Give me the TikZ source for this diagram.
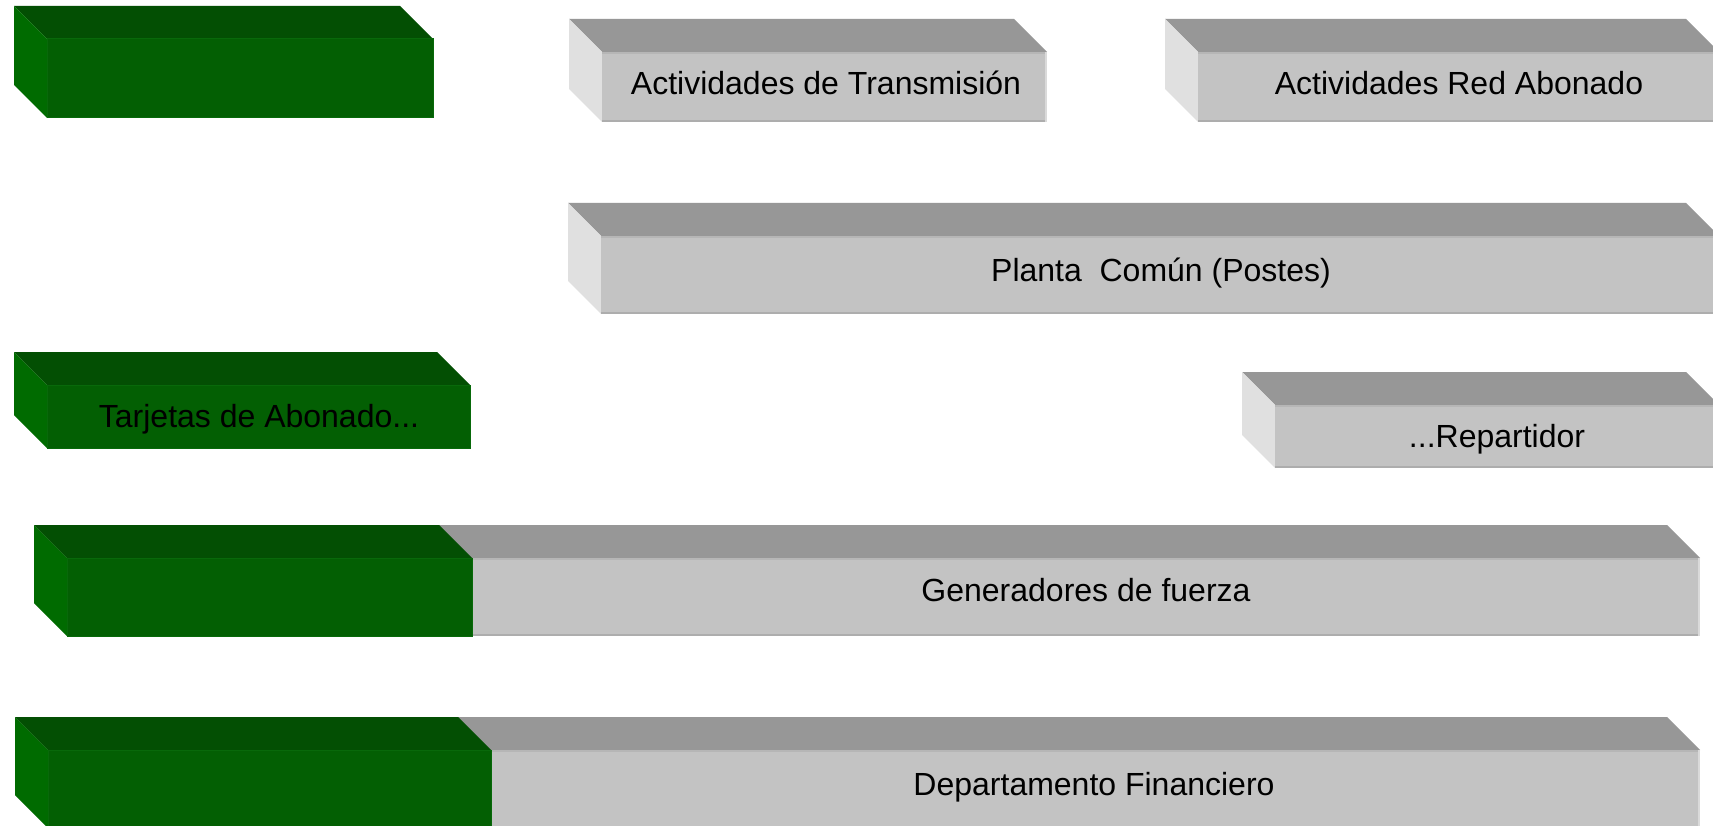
\documentclass[tikz,border=0pt]{standalone}
\usepackage{fontspec}
\setmainfont{Liberation Sans}
\definecolor{gtop}{HTML}{034F03}
\definecolor{gfront}{HTML}{035F03}
\definecolor{gleft}{HTML}{006B00}
\definecolor{gedge}{HTML}{08690A}
\definecolor{ytop}{HTML}{979797}
\definecolor{yfront}{HTML}{C3C3C3}
\definecolor{yleft}{HTML}{E0E0E0}
\definecolor{yedge}{HTML}{ADADAD}
\definecolor{yredge}{HTML}{DADADA}
\tikzset{
  lbl/.style={anchor=base, font=\fontsize{32}{38}\selectfont, inner sep=0pt, text=black},
}
% #1 x1, #2 y1, #3 x2, #4 y2 (front face), #5 top, #6 front, #7 left
\newcommand\myslab[7]{%
  \fill[#5] (#1-33,#2-33) -- (#3-33,#2-33) -- (#3,#2) -- (#1,#2) -- cycle;
  \fill[#7] (#1-33,#2-33) -- (#1,#2) -- (#1,#4) -- (#1-33,#4-33) -- cycle;
  \fill[#6] (#1,#2) rectangle (#3,#4);
}
\newcommand\grayslab[4]{%
  \myslab{#1}{#2}{#3}{#4}{ytop}{yfront}{yleft}
  \draw[yedge, line width=2pt] (#1,#4-1) -- (#3,#4-1);
  \draw[yedge!60!yfront, line width=1.5pt] (#1,#2+1) -- (#3,#2+1);
  \draw[yredge, line width=1.5pt] (#3-1,#2) -- (#3-1,#4);
}
\newcommand\greenslab[4]{%
  \myslab{#1}{#2}{#3}{#4}{gtop}{gfront}{gleft}
  \draw[gedge, line width=1pt] (#1,#2) rectangle (#3,#4);
}
\begin{document}
\begin{tikzpicture}[x=1pt, y=-1pt]
\useasboundingbox (0,0) rectangle (1713,826);
\fill[white] (0,0) rectangle (1713,826);
\clip (0,0) rectangle (1713,826);

% row 1
\greenslab{47}{39}{433}{118}
\grayslab{602}{52}{1047}{122}
\grayslab{1198}{52}{1719}{122}
\node[lbl] (transm) at (826,95) {Actividades de Transmisión};
\node[lbl] (redab) at (1459,95) {Actividades Red Abonado};

% row 2
\grayslab{601}{236}{1719}{314}
\node[lbl] (planta) at (1161,282) {Planta\ \ Común (Postes)};

% row 3
\greenslab{47}{385}{470}{448}
\grayslab{1275}{405}{1719}{468}
\node[lbl] (tarj) at (259,427) {Tarjetas de Abonado...};
\node[lbl] (repart) at (1497,447) {...Repartidor};

% row 4
\grayslab{67}{558}{1700}{636}
\greenslab{67}{558}{472}{636}
\node[lbl] (gener) at (1086,601) {Generadores de fuerza};

% row 5
\grayslab{48}{750}{1700}{828}
\greenslab{48}{750}{491}{828}
\node[lbl] (depto) at (1094,795) {Departamento Financiero};
\end{tikzpicture}
\end{document}
